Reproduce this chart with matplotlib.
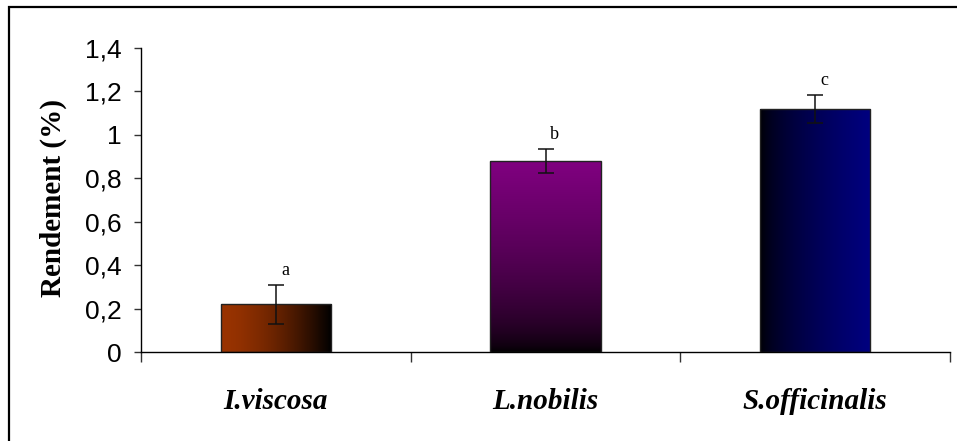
import numpy as np
import matplotlib
matplotlib.use("Agg")
import matplotlib.pyplot as plt
from matplotlib.colors import LinearSegmentedColormap
from matplotlib.patches import Rectangle

# data
species = ["I.viscosa", "L.nobilis", "S.officinalis"]
rendement = [0.22, 0.88, 1.12]
erreur = [0.09, 0.055, 0.065]
lettres = ["a", "b", "c"]
yticks = [0, 0.2, 0.4, 0.6, 0.8, 1.0, 1.2, 1.4]
ytick_labels = ["0", "0,2", "0,4", "0,6", "0,8", "1", "1,2", "1,4"]

# gradient fills (Excel style): (start colour, end colour, direction)
gradients = [
    ("#993300", "#000000", "h"),
    ("#000000", "#800080", "v"),
    ("#000000", "#000080", "h"),
]

fig = plt.figure(figsize=(9.57, 4.41), dpi=100)
ax = fig.add_axes([141 / 957, 89 / 441, 809 / 957, 304 / 441])

x = np.arange(len(species))
bars = ax.bar(x, rendement, width=0.41, facecolor="none",
              edgecolor="#222222", linewidth=1.0, zorder=3)

for bar, (c0, c1, d) in zip(bars, gradients):
    x0, y0 = bar.get_x(), bar.get_y()
    w, h = bar.get_width(), bar.get_height()
    cmap = LinearSegmentedColormap.from_list("g", [c0, c1])
    t = np.linspace(0, 1, 256)
    if d == "h":
        grad = (t ** 1.6).reshape(1, -1)
        if c0 == "#000000":
            grad = (t ** 0.6).reshape(1, -1)
    else:
        grad = (t[::-1] ** 0.6).reshape(-1, 1)
    im = ax.imshow(grad, extent=[x0, x0 + w, y0, y0 + h], aspect="auto",
                   cmap=cmap, vmin=0, vmax=1, zorder=2, interpolation="bilinear")
    im.set_clip_path(bar)

ax.errorbar(x, rendement, yerr=erreur, fmt="none", ecolor="#111111",
            elinewidth=1.1, capsize=5.5, capthick=1.1, zorder=4)

for xi, v, e, l in zip(x, rendement, erreur, lettres):
    ax.annotate(l, (xi + 0.035, v + e), xytext=(0, 7), textcoords="offset points",
                ha="center", va="baseline", family="Liberation Serif", fontsize=13)

ax.set_xlim(-0.5, 2.5)
ax.set_ylim(0, 1.4)
ax.set_yticks(yticks)
ax.set_yticklabels(ytick_labels, family="Liberation Sans", fontsize=19)
ax.set_xticks(x)
ax.set_xticklabels(species, family="Liberation Serif", fontsize=21,
                   fontweight="bold", fontstyle="italic")
ax.set_xticks([-0.5, 0.5, 1.5, 2.5], minor=True)
ax.tick_params(axis="x", which="major", length=0, pad=26)
ax.tick_params(axis="x", which="minor", length=7, width=1, color="#333333")
ax.tick_params(axis="y", length=5, width=1, color="#333333", pad=9)

for s in ["top", "right"]:
    ax.spines[s].set_visible(False)
for s in ["left", "bottom"]:
    ax.spines[s].set_color("black")
    ax.spines[s].set_linewidth(1.0)

fig.text(53 / 957, 1 - 198 / 441, "Rendement (%)", rotation=90, ha="center",
         va="center", family="Liberation Serif", fontsize=21, fontweight="bold")

# outer chart frame
fig.patches.append(Rectangle((8.5 / 957, -0.1), 1.2, 1.1 - 6.5 / 441,
                             transform=fig.transFigure, fill=False,
                             edgecolor="black", linewidth=1.6))

fig.savefig("out.png", dpi=100)
